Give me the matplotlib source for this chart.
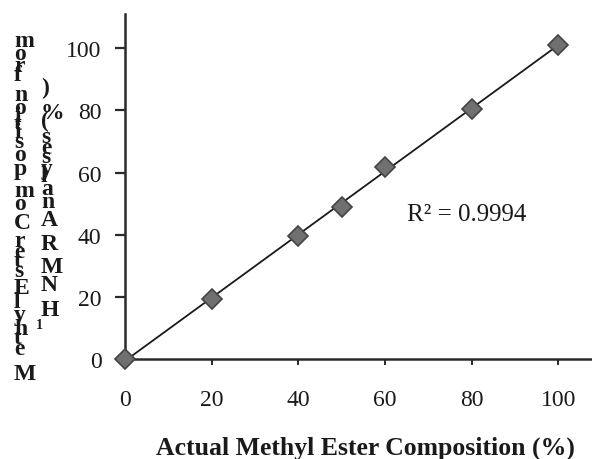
import numpy as np
import matplotlib
matplotlib.use("Agg")
import matplotlib.pyplot as plt
from matplotlib.font_manager import FontProperties, findfont
from matplotlib.ft2font import FT2Font

# Measured vs. actual methyl ester composition
actual = [0, 20, 40, 50, 60, 80, 100]
nmr = [0, 19.3, 39.7, 49.0, 61.7, 80.5, 101.1]
r2_text = "R\u00b2 = 0.9994"
xticks = [0, 20, 40, 60, 80, 100]
yticks = [0, 20, 40, 60, 80, 100]
xlabel = "Actual Methyl Ester Composition (%)"
ylabel_main = "Methyl Ester Composition from"
ylabel_sup = "1"
ylabel_rest = "H NMR Analyses (%)"

SERIF = "Liberation Serif"
INK = "#1a1a1a"
W, H, DPI = 592, 460, 100

fig = plt.figure(figsize=(W / DPI, H / DPI), dpi=DPI)
fig.patch.set_facecolor("white")

x0, x1 = 125, 592
y0, y1 = 360, 15
ax = fig.add_axes([x0 / W, 1 - y0 / H, (x1 - x0) / W, (y0 - y1) / H])
ax.set_xlim(0, 107.8)
ax.set_ylim(0, 111)

# linear trend line fitted to the measurements
slope, icpt = np.polyfit(actual, nmr, 1)
xs = np.array([0, 100])
ax.plot(xs, slope * xs + icpt, color=INK, lw=1.3, zorder=2, clip_on=False)
ax.plot(actual, nmr, ls="none", marker="D", ms=10, mfc="#707070",
        mec="#444444", mew=1.2, zorder=3, clip_on=False)

ax.text(65, 46.6, r2_text, fontsize=18, family=SERIF, color=INK,
        ha="left", va="center")

for s in ("top", "right"):
    ax.spines[s].set_visible(False)
for s in ("left", "bottom"):
    ax.spines[s].set_linewidth(1.8)
    ax.spines[s].set_color("#2a2a2a")

ax.set_xticks(xticks)
ax.set_yticks(yticks)
ax.set_xticklabels([str(v) for v in xticks], family=SERIF, fontsize=17, color=INK)
ax.set_yticklabels([str(v) for v in yticks], family=SERIF, fontsize=17, color=INK)
ax.tick_params(axis="y", direction="out", length=7, width=1.6, pad=10, colors="#2a2a2a",
               labelcolor=INK)
ax.tick_params(axis="x", direction="out", length=4.5, width=1.4, pad=17, colors="#2a2a2a",
               labelcolor=INK)

fig.text(365 / W, 1 - 455 / H, xlabel, family=SERIF, weight="bold",
         fontsize=18.5, color=INK, ha="center", va="baseline")

# y-axis title: glyphs kept upright and stacked bottom-to-top,
# each advanced by its horizontal width
prop = FontProperties(family=SERIF, weight="bold")
ft = FT2Font(findfont(prop))
LAYOUT_PT = 19.0
GLYPH_PT = 17.0
ft.set_size(LAYOUT_PT, DPI)


def advance(ch, scale=1.0):
    return ft.load_char(ord(ch)).linearHoriAdvance / 65536.0 * scale


def stack(text, x_px, y_px, size=GLYPH_PT, scale=1.0):
    pos = y_px
    for ch in text:
        if ch != " ":
            fig.text(x_px / W, 1 - pos / H, ch, family=SERIF, weight="bold",
                     fontsize=size, color=INK, ha="left", va="baseline")
        pos -= advance(ch, scale)
    return pos


stack(ylabel_main, 14, 380, scale=0.985)
p = stack(ylabel_sup, 36, 329, size=GLYPH_PT * 0.6, scale=1.0)
stack(ylabel_rest, 41, p, scale=0.93)

fig.savefig("out.png", dpi=DPI)
